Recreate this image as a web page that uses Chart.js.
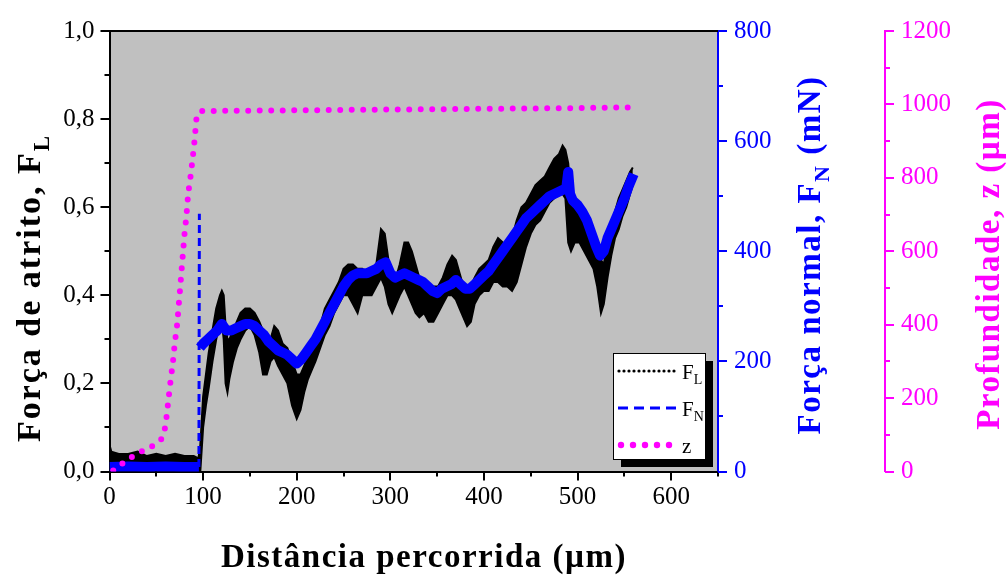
<!DOCTYPE html>
<html>
<head>
<meta charset="utf-8">
<script src="https://cdn.jsdelivr.net/npm/chart.js@4"></script>
<style>
  html, body { margin: 0; padding: 0; background: #fff; }
  #wrap { width: 1008px; height: 581px; }
</style>
</head>
<body>
<div id="wrap"><canvas id="riscoChart"></canvas></div>
<script>
// distância percorrida (µm) for the friction trace
const flX = [
  0, 2, 10, 20, 30, 40, 50, 60, 70, 80,
  90, 95, 97, 100, 103, 106, 110, 114, 118, 120,
  122, 124, 126, 128, 132, 136, 140, 145, 150, 155,
  160, 164, 168, 172, 176, 180, 185, 190, 195, 200,
  204, 208, 212, 216, 220, 225, 230, 235, 240, 245,
  250, 255, 260, 265, 270, 275, 280, 285, 290, 294,
  298, 302, 306, 310, 315, 319, 323, 327, 331, 336,
  341, 346, 351, 356, 361, 366, 370, 374, 378, 382,
  386, 390, 395, 400, 405, 410, 415, 420, 425, 430,
  435, 440, 445, 450, 455, 460, 465, 470, 475, 480,
  484, 487, 490, 493, 497, 502, 507, 512, 517, 521,
  525, 528, 532, 536, 540, 544, 548, 552, 556, 559
];
// força de atrito F_L: top and bottom of the noisy trace
const flHigh = [
  0.06, 0.045, 0.04, 0.04, 0.045, 0.035, 0.04, 0.035, 0.04, 0.035,
  0.035, 0.03, 0.06, 0.17, 0.22, 0.27, 0.32, 0.37, 0.40, 0.41,
  0.40, 0.33, 0.30, 0.30, 0.32, 0.34, 0.36, 0.37, 0.37, 0.36,
  0.34, 0.32, 0.30, 0.30, 0.33, 0.32, 0.29, 0.28, 0.25, 0.22,
  0.22, 0.24, 0.26, 0.28, 0.30, 0.33, 0.37, 0.39, 0.41, 0.43,
  0.46, 0.47, 0.47, 0.46, 0.46, 0.45, 0.45, 0.47, 0.55, 0.54,
  0.48, 0.45, 0.44, 0.47, 0.52, 0.52, 0.50, 0.47, 0.44, 0.42,
  0.42, 0.42, 0.42, 0.44, 0.47, 0.49, 0.48, 0.45, 0.42, 0.40,
  0.42, 0.44, 0.46, 0.47, 0.48, 0.51, 0.53, 0.52, 0.50, 0.53,
  0.57, 0.60, 0.61, 0.63, 0.65, 0.66, 0.67, 0.69, 0.71, 0.72,
  0.74, 0.73, 0.70, 0.62, 0.60, 0.59, 0.57, 0.55, 0.52, 0.50,
  0.48, 0.47, 0.52, 0.56, 0.59, 0.62, 0.64, 0.66, 0.68, 0.69
];
const flLow = [
  0.02, 0.02, 0.02, 0.02, 0.02, 0.02, 0.02, 0.02, 0.02, 0.02,
  0.02, 0.0, 0.0, 0.10, 0.15, 0.19, 0.25, 0.30, 0.34, 0.34,
  0.30, 0.20, 0.18, 0.21, 0.25, 0.28, 0.30, 0.32, 0.33, 0.31,
  0.27, 0.22, 0.22, 0.25, 0.26, 0.24, 0.22, 0.20, 0.15, 0.12,
  0.14, 0.18, 0.21, 0.23, 0.25, 0.28, 0.31, 0.33, 0.36, 0.38,
  0.40, 0.40, 0.38, 0.36, 0.40, 0.40, 0.40, 0.42, 0.44, 0.42,
  0.38, 0.36, 0.38, 0.40, 0.42, 0.40, 0.38, 0.36, 0.35, 0.36,
  0.34, 0.34, 0.36, 0.38, 0.40, 0.40, 0.39, 0.37, 0.35, 0.33,
  0.34, 0.38, 0.40, 0.41, 0.41, 0.43, 0.43, 0.42, 0.42, 0.41,
  0.43, 0.47, 0.51, 0.54, 0.56, 0.57, 0.59, 0.61, 0.62, 0.63,
  0.63, 0.62, 0.52, 0.50, 0.52, 0.52, 0.50, 0.48, 0.46, 0.42,
  0.36, 0.38, 0.44, 0.49, 0.53, 0.55, 0.58, 0.60, 0.63, 0.65
];

// força normal F_N (mN)
const fnX = [
  0, 20, 40, 60, 80, 95.5, 96, 96.6, 100, 105,
  110, 115, 120, 125, 130, 135, 140, 145, 150, 155,
  160, 165, 170, 175, 180, 185, 190, 195, 200, 205,
  210, 215, 220, 225, 230, 235, 240, 245, 250, 255,
  260, 265, 270, 275, 280, 285, 290, 295, 300, 305,
  310, 315, 320, 325, 330, 335, 340, 345, 350, 355,
  360, 365, 370, 375, 380, 385, 390, 395, 400, 405,
  410, 415, 420, 425, 430, 435, 440, 445, 450, 455,
  460, 465, 470, 475, 480, 485, 488, 490, 492, 495,
  500, 505, 510, 515, 520, 524, 528, 532, 536, 540,
  545, 550, 555, 560
];
const fnVal = [
  8, 9, 8, 9, 8, 8, 468, 225, 232, 240,
  248, 256, 268, 256, 256, 260, 264, 268, 268, 264,
  256, 248, 236, 228, 220, 216, 212, 204, 196, 204,
  216, 228, 240, 256, 272, 288, 304, 320, 336, 348,
  356, 360, 360, 360, 364, 368, 376, 380, 360, 352,
  356, 360, 356, 352, 348, 344, 336, 328, 324, 332,
  336, 340, 348, 340, 332, 332, 340, 348, 356, 364,
  376, 388, 400, 412, 424, 436, 448, 460, 468, 476,
  484, 492, 500, 504, 508, 512, 516, 544, 504, 492,
  484, 472, 456, 432, 408, 392, 400, 424, 440, 456,
  476, 496, 520, 540
];

// profundidade z (µm)
const zX = [
  4, 19, 28, 36, 43, 50, 56, 59, 61, 62.5,
  64, 65.5, 67, 68.5, 69.5, 71, 72.5, 73.5, 74.5, 75.5,
  76.5, 77.5, 78.5, 79.5, 80.5, 82, 83, 84, 85.5, 87.5,
  88.5, 90, 91, 92, 93, 97, 150, 200, 300, 400,
  500, 556
];
const zVal = [
  3, 32, 46, 57, 65, 76, 90, 115, 150, 185,
  220, 253, 283, 315, 345, 375, 405, 440, 470, 500,
  532, 565, 595, 628, 658, 690, 723, 755, 785, 820,
  850, 877, 908, 935, 965, 982, 983, 984, 986, 988,
  990, 992
];

const SERIF = '"Liberation Serif", "Times New Roman", serif';
const pts = (xs, ys) => xs.map((x, i) => ({ x: x, y: ys[i] }));
// the load jump at the start of the scratch is drawn as a thin dashed stroke
const rising = c => c.p1.parsed.y - c.p0.parsed.y > 150;
const falling = c => c.p0.parsed.y - c.p1.parsed.y > 150;

const plotBackground = {
  id: 'plotBackground',
  beforeDraw(chart) {
    const { ctx, chartArea: a } = chart;
    ctx.save();
    ctx.fillStyle = '#c0c0c0';
    ctx.fillRect(a.left, a.top, a.right - a.left, a.bottom - a.top);
    ctx.restore();
  }
};

// major and minor tick marks, all pointing outwards
const tickMarks = {
  id: 'tickMarks',
  afterDraw(chart) {
    const { ctx, chartArea: a, scales } = chart;
    ctx.save();
    ctx.lineWidth = 2;
    ctx.beginPath();
    ctx.strokeStyle = '#000';
    ctx.moveTo(a.left - 1, a.top);
    ctx.lineTo(a.right, a.top);
    for (let v = 0; v <= 650; v += 50) {
      const px = Math.round(scales.x.getPixelForValue(v));
      ctx.moveTo(px, a.bottom);
      ctx.lineTo(px, a.bottom + (v % 100 === 0 ? 9 : 5));
    }
    for (let i = 0; i <= 10; i++) {
      const py = Math.round(scales.y.getPixelForValue(i / 10));
      ctx.moveTo(a.left, py);
      ctx.lineTo(a.left - (i % 2 === 0 ? 9 : 5), py);
    }
    ctx.stroke();

    const side = (scale, n, color) => {
      ctx.beginPath();
      ctx.strokeStyle = color;
      for (let i = 0; i <= n; i++) {
        const py = Math.round(scale.getPixelForValue(i * 100));
        ctx.moveTo(scale.left, py);
        ctx.lineTo(scale.left + (i % 2 === 0 ? 9 : 5), py);
      }
      ctx.stroke();
    };
    side(scales.yN, 8, '#0000ff');
    side(scales.yZ, 12, '#ff00ff');
    ctx.restore();
  }
};

function drawTitle(ctx, parts, x, y, angle, size, color, spacing) {
  ctx.save();
  ctx.translate(x, y);
  ctx.rotate(angle);
  ctx.fillStyle = color;
  ctx.textAlign = 'left';
  ctx.textBaseline = 'alphabetic';
  ctx.letterSpacing = spacing + 'px';
  const fonts = parts.map(p => 'bold ' + (p.sub ? Math.round(size * 0.68) : size) + 'px ' + SERIF);
  let total = 0;
  const widths = parts.map((p, i) => {
    ctx.font = fonts[i];
    const w = ctx.measureText(p.t).width;
    total += w;
    return w;
  });
  let cx = -total / 2;
  parts.forEach((p, i) => {
    ctx.font = fonts[i];
    ctx.fillText(p.t, cx, p.sub ? size * 0.26 : 0);
    cx += widths[i];
  });
  ctx.restore();
}

const axisTitles = {
  id: 'axisTitles',
  afterDraw(chart) {
    const ctx = chart.ctx;
    drawTitle(ctx, [{ t: 'Distância percorrida (µm)' }], 424, 567, 0, 33, '#000', 1.5);
    drawTitle(ctx, [{ t: 'Força de atrito, F' }, { t: 'L', sub: true }], 40, 288, -Math.PI / 2, 34, '#000', 2);
    drawTitle(ctx, [{ t: 'Força normal, F' }, { t: 'N', sub: true }, { t: ' (mN)' }], 820, 255, -Math.PI / 2, 33, '#0000ff', 1.5);
    drawTitle(ctx, [{ t: 'Profundidade, z (µm)' }], 999, 264, -Math.PI / 2, 33, '#ff00ff', 1.5);
  }
};

const legendBox = {
  id: 'legendBox',
  afterDraw(chart) {
    const ctx = chart.ctx;
    const L = 613, T = 353, W = 92, H = 106;
    ctx.save();
    ctx.fillStyle = '#000';
    ctx.fillRect(L + 8, T + 8, W, H);
    ctx.fillStyle = '#fff';
    ctx.fillRect(L, T, W, H);
    ctx.strokeStyle = '#000';
    ctx.lineWidth = 1;
    ctx.strokeRect(L + 0.5, T + 0.5, W, H);

    const rows = [371, 408, 445];
    // F_L sample: fine dots
    ctx.fillStyle = '#000';
    for (let x = 619; x <= 677; x += 5) {
      ctx.beginPath();
      ctx.arc(x, rows[0], 1.6, 0, Math.PI * 2);
      ctx.fill();
    }
    // F_N sample: dashes
    ctx.strokeStyle = '#0000ff';
    ctx.lineWidth = 3;
    ctx.setLineDash([10, 6]);
    ctx.beginPath();
    ctx.moveTo(618, rows[1]);
    ctx.lineTo(678, rows[1]);
    ctx.stroke();
    ctx.setLineDash([]);
    // z sample: round dots
    ctx.fillStyle = '#ff00ff';
    for (let i = 0; i < 5; i++) {
      ctx.beginPath();
      ctx.arc(621 + i * 12, rows[2], 3.2, 0, Math.PI * 2);
      ctx.fill();
    }

    ctx.fillStyle = '#000';
    ctx.textBaseline = 'alphabetic';
    const label = (main, sub, y) => {
      ctx.font = '21px ' + SERIF;
      ctx.fillText(main, 682, y);
      if (sub) {
        const w = ctx.measureText(main).width;
        ctx.font = '14px ' + SERIF;
        ctx.fillText(sub, 682 + w, y + 5);
      }
    };
    label('F', 'L', rows[0] + 8);
    label('F', 'N', rows[1] + 8);
    label('z', '', rows[2] + 8);
    ctx.restore();
  }
};

const tickFont = { family: SERIF, size: 25 };
const noGrid = { display: false, drawTicks: false };

new Chart(document.getElementById('riscoChart').getContext('2d'), {
  type: 'line',
  data: {
    datasets: [
      {
        label: 'z',
        data: pts(zX, zVal),
        yAxisID: 'yZ',
        borderColor: '#ff00ff',
        borderWidth: 6,
        borderDash: [0, 11.5],
        borderCapStyle: 'round',
        pointRadius: 0,
        fill: false,
        order: 0
      },
      {
        label: 'F_N',
        data: pts(fnX, fnVal),
        yAxisID: 'yN',
        borderColor: '#0000ff',
        borderWidth: 10,
        borderJoinStyle: 'round',
        pointRadius: 0,
        fill: false,
        clip: 0,
        order: 1,
        segment: {
          borderWidth: c => (rising(c) || falling(c)) ? 3 : undefined,
          borderDash: c => (rising(c) || falling(c)) ? [8, 5] : undefined,
          borderColor: c => falling(c) ? 'rgba(0,0,255,0)' : undefined
        }
      },
      {
        label: 'F_L',
        data: pts(flX, flHigh),
        yAxisID: 'y',
        borderColor: '#000',
        borderWidth: 2,
        pointRadius: 0,
        fill: false,
        order: 2
      },
      {
        label: 'F_L min',
        data: pts(flX, flLow),
        yAxisID: 'y',
        borderColor: '#000',
        borderWidth: 2,
        backgroundColor: '#000',
        pointRadius: 0,
        fill: '-1',
        order: 2
      }
    ]
  },
  options: {
    responsive: true,
    maintainAspectRatio: false,
    animation: false,
    devicePixelRatio: 1,
    layout: { padding: { top: 29, left: 0, right: 0, bottom: 0 } },
    plugins: {
      legend: { display: false },
      tooltip: { enabled: false }
    },
    scales: {
      x: {
        type: 'linear',
        min: 0,
        max: 650,
        afterFit: s => { s.height = 109.5; },
        grid: noGrid,
        border: { color: '#000', width: 2 },
        ticks: {
          stepSize: 100,
          padding: 11,
          color: '#000',
          font: tickFont,
          maxRotation: 0,
          autoSkip: false,
          includeBounds: false,
          callback: v => (v % 100 === 0 ? String(v) : '')
        }
      },
      y: {
        position: 'left',
        min: 0,
        max: 1,
        afterFit: s => { s.width = 109.5; },
        grid: noGrid,
        border: { color: '#000', width: 2 },
        ticks: {
          stepSize: 0.2,
          padding: 15,
          color: '#000',
          font: tickFont,
          callback: v => v.toFixed(1).replace('.', ',')
        }
      },
      yN: {
        position: 'right',
        weight: 0,
        min: 0,
        max: 800,
        afterFit: s => { s.width = 167; },
        grid: noGrid,
        border: { color: '#0000ff', width: 2 },
        ticks: { stepSize: 200, padding: 16, color: '#0000ff', font: tickFont, callback: v => String(v) }
      },
      yZ: {
        position: 'right',
        weight: 1,
        min: 0,
        max: 1200,
        afterFit: s => { s.width = 123; },
        grid: noGrid,
        border: { color: '#ff00ff', width: 2 },
        ticks: { stepSize: 200, padding: 16, color: '#ff00ff', font: tickFont, callback: v => String(v) }
      }
    }
  },
  plugins: [plotBackground, tickMarks, axisTitles, legendBox]
});
</script>
</body>
</html>
